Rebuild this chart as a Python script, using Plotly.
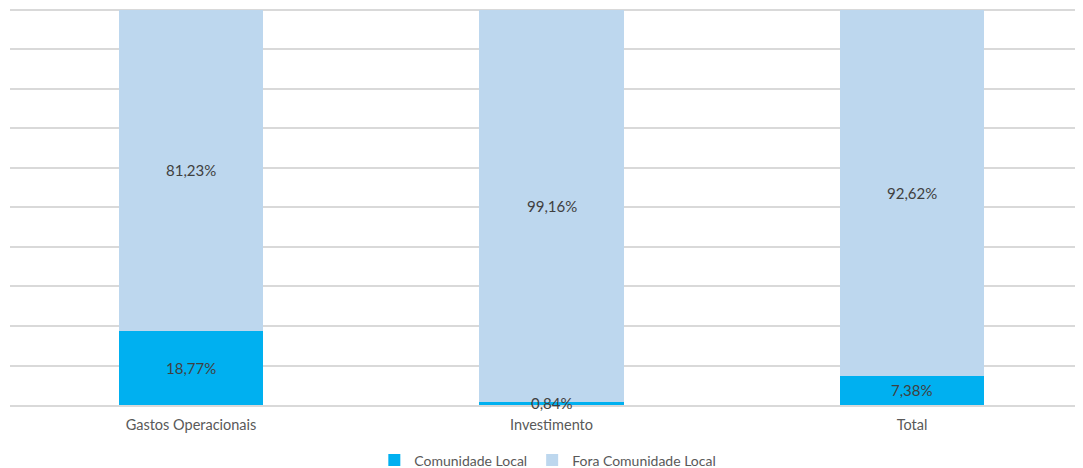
import plotly.graph_objects as go

categories = ["Gastos Operacionais", "Investimento", "Total"]
local = [18.77, 0.84, 7.38]
fora = [81.23, 99.16, 92.62]
local_labels = ["18,77%", "0,84%", "7,38%"]
fora_labels = ["81,23%", "99,16%", "92,62%"]

fig = go.Figure()
fig.add_trace(go.Bar(x=categories, y=local, name="Comunidade Local",
                     marker=dict(color="#00B0F0", line=dict(width=0)), width=0.4,
                     hoverinfo="skip"))
fig.add_trace(go.Bar(x=categories, y=fora, name="Fora Comunidade Local",
                     marker=dict(color="#BDD7EE", line=dict(width=0)), width=0.4,
                     hoverinfo="skip"))

font_lbl = dict(family="Lato, Open Sans, sans-serif", size=15, color="#404040")
for c, v, t in zip(categories, local, local_labels):
    fig.add_annotation(x=c, y=v / 2, text=t, showarrow=False, font=font_lbl)
for c, b, v, t in zip(categories, local, fora, fora_labels):
    fig.add_annotation(x=c, y=b + v / 2, text=t, showarrow=False, font=font_lbl)

fig.update_layout(
    barmode="stack",
    width=1083, height=468,
    margin=dict(l=10, r=8, t=6, b=63, autoexpand=False),
    paper_bgcolor="white", plot_bgcolor="white",
    font=dict(family="Lato, Open Sans, sans-serif", size=14, color="#595959"),
    showlegend=True,
    legend=dict(orientation="h", x=0.505, xanchor="center", y=-0.139, yanchor="middle",
                font=dict(size=14, color="#595959"), itemwidth=30, traceorder="normal"),
    xaxis=dict(range=[-0.502, 2.452], showgrid=False, showline=True,
               linecolor="#D9D9D9", linewidth=1.5, ticks="", ticklabelstandoff=6,
               tickfont=dict(size=14.5, color="#595959")),
    yaxis=dict(range=[0, 101], tickvals=[0, 10, 20, 30, 40, 50, 60, 70, 80, 90, 100],
               showgrid=True, gridcolor="#D9D9D9",
               gridwidth=1.5, showticklabels=False, zeroline=False),
)

fig.write_html("out.html", config={"displayModeBar": False},
               post_script="document.body.style.margin='0';document.body.style.overflow='hidden';")
